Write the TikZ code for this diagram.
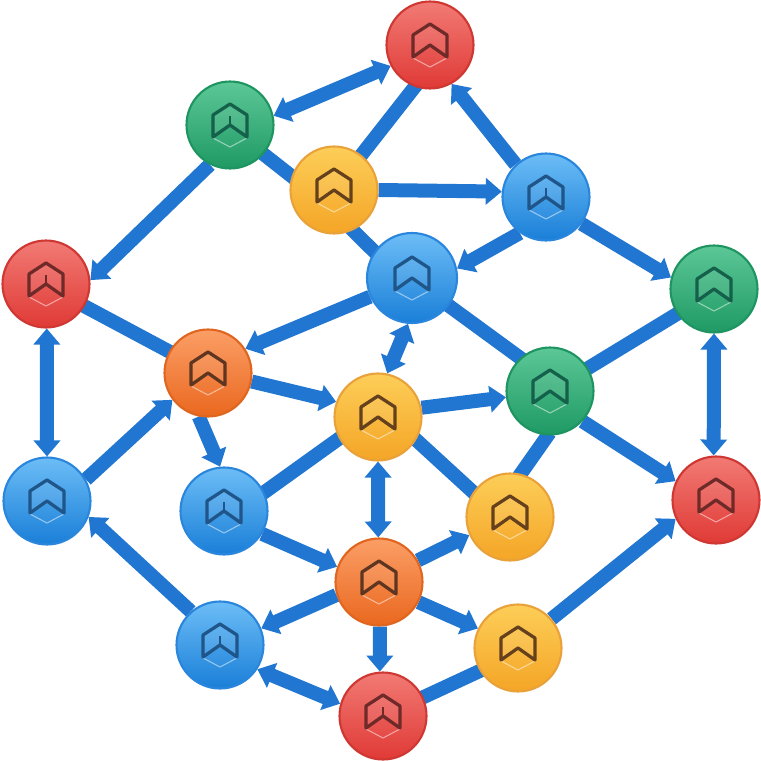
\documentclass[tikz,border=0pt]{standalone}
\usepackage{xcolor}
\usetikzlibrary{arrows.meta,backgrounds}
\definecolor{linkblue}{HTML}{2176D2}
\definecolor{redtop}{HTML}{F27A74}
\definecolor{redmid}{HTML}{F0524C}
\definecolor{redbot}{HTML}{E03A36}
\definecolor{redrim}{HTML}{CF3733}
\definecolor{bluetop}{HTML}{6CBDF6}
\definecolor{bluemid}{HTML}{2F9CEE}
\definecolor{bluebot}{HTML}{1A7FD8}
\definecolor{bluerim}{HTML}{2A86DC}
\definecolor{greentop}{HTML}{5CC797}
\definecolor{greenmid}{HTML}{2AB275}
\definecolor{greenbot}{HTML}{1F9A64}
\definecolor{greenrim}{HTML}{1E9561}
\definecolor{yellowtop}{HTML}{FDCE58}
\definecolor{yellowmid}{HTML}{FCB832}
\definecolor{yellowbot}{HTML}{F4A526}
\definecolor{yellowrim}{HTML}{E9A23A}
\definecolor{orangetop}{HTML}{FB9E66}
\definecolor{orangemid}{HTML}{F77F34}
\definecolor{orangebot}{HTML}{EA681F}
\definecolor{orangerim}{HTML}{E0651F}
\definecolor{redmark}{HTML}{6E2A28}
\definecolor{bluemark}{HTML}{1F5588}
\definecolor{greenmark}{HTML}{14604A}
\definecolor{yellowmark}{HTML}{65401C}
\definecolor{orangemark}{HTML}{5E3520}
\tikzset{
	ball/.style={circle, minimum size=1.74cm, inner sep=0pt, line width=1.2pt},
	redball/.style={ball, draw=redrim, top color=redtop, middle color=redmid, bottom color=redbot},
	blueball/.style={ball, draw=bluerim, top color=bluetop, middle color=bluemid, bottom color=bluebot},
	greenball/.style={ball, draw=greenrim, top color=greentop, middle color=greenmid, bottom color=greenbot},
	yellowball/.style={ball, draw=yellowrim, top color=yellowtop, middle color=yellowmid, bottom color=yellowbot},
	orangeball/.style={ball, draw=orangerim, top color=orangetop, middle color=orangemid, bottom color=orangebot},
	link/.style={linkblue, line width=0.28cm},
	plain/.style={link, shorten >=-2pt, shorten <=-2pt},
	flow/.style={link, -{Triangle[length=0.32cm,width=0.52cm]}},
	both/.style={link, {Triangle[length=0.32cm,width=0.52cm]}-{Triangle[length=0.32cm,width=0.52cm]}},
	mark/.pic={
		\draw[white, opacity=0.5, line width=0.6pt] (-17,13) -- (0,22) -- (17,13);
		\draw[#1, fill=white, fill opacity=0.08, line width=0.065cm, line join=round] (0,-21) -- (17,-10) -- (17,12) -- (0,0) -- (-17,12) -- (-17,-10) -- cycle;
	},
	stem/.pic={
		\draw[#1, line width=0.045cm] (0,0) -- (0,-9);
	}
}
\begin{document}
\begin{tikzpicture}[x=0.02cm, y=-0.02cm]
	\useasboundingbox (0,0) rectangle (761,761);
	\node[redball] (r1) at (430,45) {};
	\node[greenball] (g1) at (230,125) {};
	\node[yellowball] (y1) at (334,190) {};
	\node[blueball] (b1) at (546,197) {};
	\node[blueball, minimum size=1.8cm] (b2) at (412,278) {};
	\node[greenball] (g2) at (714,289) {};
	\node[redball] (r2) at (46,284) {};
	\node[orangeball] (o1) at (208,373) {};
	\node[yellowball] (y2) at (378,417) {};
	\node[greenball] (g3) at (550,391) {};
	\node[blueball] (b3) at (47,501) {};
	\node[blueball] (b4) at (224,511) {};
	\node[yellowball] (y3) at (510,517) {};
	\node[redball] (r3) at (716,500) {};
	\node[orangeball] (o2) at (379,582) {};
	\node[blueball] (b5) at (220,645) {};
	\node[yellowball] (y4) at (518,648) {};
	\node[redball] (r4) at (383,716) {};

	\foreach \n/\c in {r1/redmark, g1/greenmark, y1/yellowmark, b1/bluemark, b2/bluemark, g2/greenmark, r2/redmark, o1/orangemark, y2/yellowmark, g3/greenmark, b3/bluemark, b4/bluemark, y3/yellowmark, r3/redmark, o2/orangemark, b5/bluemark, y4/yellowmark, r4/redmark}
		\pic at (\n) {mark=\c};
	\foreach \n/\c in {g1/greenmark, r2/redmark, b1/bluemark, b4/bluemark, b5/bluemark, r4/redmark}
		\pic at (\n) {stem=\c};

	\begin{scope}[on background layer]
		\draw[both] (r1.208) -- (g1.12);
		\draw[plain] (g1.-41) -- (y1.162);
		\draw[plain] (y1.52) -- (r1.250);
		\draw[flow] (b1.133) -- (r1.299);
		\draw[flow] (y1.0) -- (b1.173);
		\draw[plain] (y1.-65) -- (b2.145);
		\draw[flow] (b1.234) -- (b2.12);
		\draw[flow] (b1.-37) -- (g2.165);
		\draw[flow] (g1.243) -- (r2.5);
		\draw[plain] (r2.-30) -- (o1.151);
		\draw[flow] (b2.204) -- (o1.33);
		\draw[plain] (b2.-37) -- (g3.132);
		\draw[both] (b2.265) -- (y2.78);
		\draw[plain] (g3.31) -- (g2.214);
		\draw[both] (g2.-90) -- (r3.93);
		\draw[flow] (g3.-43) -- (r3.155);
		\draw[flow] (o1.-11) -- (y2.160);
		\draw[flow] (y2.12) -- (g3.188);
		\draw[flow] (o1.258) -- (b4.95);
		\draw[flow] (b3.29) -- (o1.217);
		\draw[both] (r2.-89) -- (b3.90);
		\draw[plain] (y2.209) -- (b4.25);
		\draw[plain] (y2.-31) -- (y3.146);
		\draw[plain] (y3.76) -- (g3.267);
		\draw[both] (y2.-90) -- (o2.91);
		\draw[flow] (b4.-31) -- (o2.160);
		\draw[flow] (o2.29) -- (y3.204);
		\draw[flow] (o2.-27) -- (y4.154);
		\draw[flow] (o2.197) -- (b5.22);
		\draw[flow] (o2.-89) -- (r4.94);
		\draw[flow] (b5.131) -- (b3.-21);
		\draw[both] (b5.-33) -- (r4.164);
		\draw[plain] (r4.25) -- (y4.211);
		\draw[flow] (y4.41) -- (r3.205);
	\end{scope}
\end{tikzpicture}
\end{document}
